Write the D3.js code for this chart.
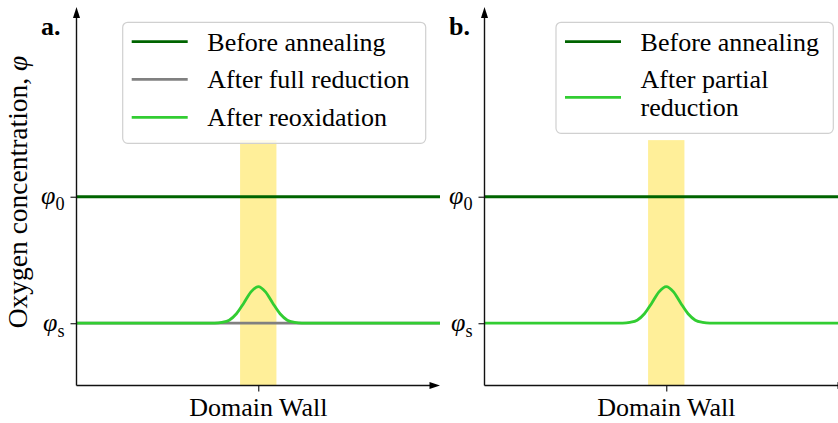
<!DOCTYPE html>
<html>
<head>
<meta charset="utf-8">
<script src="https://cdn.jsdelivr.net/npm/d3@7"></script>
<style>
  html, body { margin: 0; padding: 0; background: #fff; }
  svg text { font-family: "Liberation Serif", "Times New Roman", serif; fill: #000; }
</style>
</head>
<body>
<svg id="chart" width="838" height="423"></svg>
<script>
// Oxygen concentration profiles across a ferroelectric domain wall

// Positions along the sample (domain wall sits at 0)
const position = [-5, -1.2, -1.0, -0.8, -0.6, -0.4, -0.2, 0, 0.2, 0.4, 0.6, 0.8, 1.0, 1.2, 5];

// Concentration levels (phi_0 and phi_s as fractions of the axis height)
const PHI_0 = 0.5;
const PHI_S = 0.165;

// Profiles
const beforeAnnealing = [0.5, 0.5, 0.5, 0.5, 0.5, 0.5, 0.5, 0.5, 0.5, 0.5, 0.5, 0.5, 0.5, 0.5, 0.5];
const afterFullReduction = [0.165, 0.165, 0.165, 0.165, 0.165, 0.165, 0.165, 0.165, 0.165, 0.165, 0.165, 0.165, 0.165, 0.165, 0.165];
const afterReoxidation = [0.165, 0.165, 0.167, 0.173, 0.190, 0.218, 0.248, 0.262, 0.248, 0.218, 0.190, 0.173, 0.167, 0.165, 0.165];
const afterPartialReduction = [0.165, 0.165, 0.167, 0.173, 0.190, 0.218, 0.248, 0.262, 0.248, 0.218, 0.190, 0.173, 0.167, 0.165, 0.165];

// Domain-wall region (shaded band)
const wallBand = [-0.5, 0.5];
const wallBandTop = 0.65;

// Tick labels
const yTickValues = [PHI_0, PHI_S];
const yTickSubs = ["0", "s"];
const xTickValues = [0];
const xLabel = "Domain Wall";
const yLabel = "Oxygen concentration, ";

// Legend entries
const legendA = [["Before annealing"], ["After full reduction"], ["After reoxidation"]];
const legendB = [["Before annealing"], ["After partial", "reduction"]];

const COLORS = { before: "#006400", full: "#808080", reox: "#32cd32", partial: "#32cd32", band: "#ffef99" };

const svg = d3.select("#chart");
const FONT = 26;

const y = d3.scaleLinear().domain([0, 1]).range([385.5, 8]);

const panels = [
  {
    letter: "a.", letterX: 41, left: 76.5,
    series: [
      { values: beforeAnnealing, color: COLORS.before },
      { values: afterFullReduction, color: COLORS.full },
      { values: afterReoxidation, color: COLORS.reox }
    ],
    legend: { x: 122.7, y: 22.3, w: 303, h: 121, rows: legendA,
              colors: [COLORS.before, COLORS.full, COLORS.reox], lineY: [41.7, 79.3, 117.3],
              baselines: [[50.7], [88.3], [126.3]] },
    showYLabel: true
  },
  {
    letter: "b.", letterX: 449, left: 484.5,
    series: [
      { values: beforeAnnealing, color: COLORS.before },
      { values: afterPartialReduction, color: COLORS.partial }
    ],
    legend: { x: 556, y: 22.3, w: 277.3, h: 111, rows: legendB,
              colors: [COLORS.before, COLORS.partial], lineY: [41.7, 97.3],
              baselines: [[50.7], [88.3, 116]] },
    showYLabel: false
  }
];

const PANEL_W = 363.5;

panels.forEach(p => {
  const x = d3.scaleLinear().domain([-5, 5]).range([p.left, p.left + PANEL_W]);
  const g = svg.append("g");

  // shaded domain wall
  g.append("rect")
    .attr("x", x(wallBand[0]))
    .attr("y", y(wallBandTop))
    .attr("width", x(wallBand[1]) - x(wallBand[0]))
    .attr("height", y(0) - y(wallBandTop))
    .attr("fill", COLORS.band);

  // profiles
  const line = d3.line()
    .x((d, i) => x(position[i]))
    .y(d => y(d))
    .curve(d3.curveMonotoneX);

  p.series.forEach(s => {
    g.append("path")
      .datum(s.values)
      .attr("d", line)
      .attr("fill", "none")
      .attr("stroke", s.color)
      .attr("stroke-width", 2.8);
  });

  // y axis (ticks only, spine drawn with arrow below)
  const yAxis = d3.axisLeft(y).tickValues(yTickValues).tickSize(6).tickFormat("");
  const ya = g.append("g").attr("transform", `translate(${p.left},0)`).call(yAxis);
  ya.select(".domain").remove();
  ya.selectAll(".tick line").attr("stroke", "#222").attr("stroke-width", 1.2);
  ya.selectAll(".tick").each(function(d, i) {
    const t = d3.select(this).append("text")
      .attr("x", -12).attr("y", 0).attr("dy", 7)
      .attr("text-anchor", "end")
      .style("font-size", FONT + "px");
    t.append("tspan").attr("font-style", "italic").text("\u03c6");
    t.append("tspan").attr("dy", 6).style("font-size", (FONT * 0.7) + "px").text(yTickSubs[i]);
  });

  // x axis tick at the wall
  const xAxis = d3.axisBottom(x).tickValues(xTickValues).tickSize(6).tickFormat("");
  const xa = g.append("g").attr("transform", `translate(0,${y(0)})`).call(xAxis);
  xa.select(".domain").remove();
  xa.selectAll(".tick line").attr("stroke", "#222").attr("stroke-width", 1.2);

  // spines with arrowheads
  const x0 = p.left, yB = y(0), yT = y(1), xR = x(5);
  g.append("line").attr("x1", x0).attr("y1", yB).attr("x2", x0).attr("y2", yT + 6)
    .attr("stroke", "#111").attr("stroke-width", 1.4);
  g.append("line").attr("x1", x0).attr("y1", yB).attr("x2", xR - 6).attr("y2", yB)
    .attr("stroke", "#111").attr("stroke-width", 1.4);
  g.append("path")
    .attr("d", `M${x0},${yT - 1} L${x0 - 3.5},${yT + 10} L${x0 + 3.5},${yT + 10} Z`)
    .attr("fill", "#000");
  g.append("path")
    .attr("d", `M${xR},${yB} L${xR - 10.5},${yB - 3.5} L${xR - 10.5},${yB + 3.5} Z`)
    .attr("fill", "#000");

  // x label
  g.append("text")
    .attr("x", x(0)).attr("y", 416)
    .attr("text-anchor", "middle")
    .style("font-size", FONT + "px")
    .text(xLabel);

  // y label
  if (p.showYLabel) {
    const yl = g.append("text")
      .attr("transform", "translate(27,192) rotate(-90)")
      .attr("text-anchor", "middle")
      .style("font-size", "27.5px");
    yl.append("tspan").text(yLabel);
    yl.append("tspan").attr("font-style", "italic").text("\u03c6");
  }

  // panel letter
  g.append("text")
    .attr("x", p.letterX).attr("y", 35)
    .attr("font-weight", "bold")
    .style("font-size", FONT + "px")
    .text(p.letter);

  // legend
  const L = p.legend;
  const lg = g.append("g");
  lg.append("rect")
    .attr("x", L.x).attr("y", L.y).attr("width", L.w).attr("height", L.h)
    .attr("rx", 5).attr("ry", 5)
    .attr("fill", "#fff").attr("fill-opacity", 0.8)
    .attr("stroke", "#d0d0d0").attr("stroke-width", 1.2);
  L.rows.forEach((row, i) => {
    lg.append("line")
      .attr("x1", L.x + 9).attr("x2", L.x + 65)
      .attr("y1", L.lineY[i]).attr("y2", L.lineY[i])
      .attr("stroke", L.colors[i]).attr("stroke-width", 2.8);
    row.forEach((txt, j) => {
      lg.append("text")
        .attr("x", L.x + 84.6).attr("y", L.baselines[i][j])
        .style("font-size", FONT + "px")
        .text(txt);
    });
  });
});
</script>
</body>
</html>
